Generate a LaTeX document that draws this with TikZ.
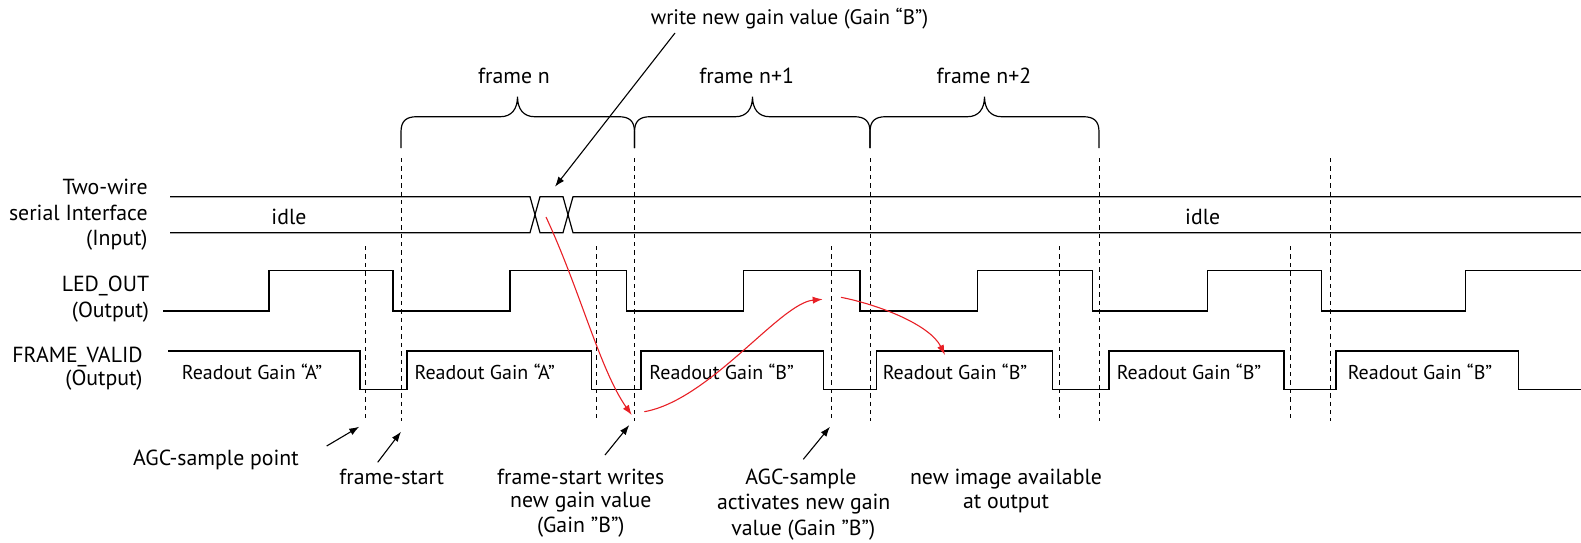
\documentclass[tikz,border=0pt]{standalone}
\usepackage{fontspec}
\setmainfont{PT Sans}
\usetikzlibrary{arrows.meta}
\definecolor{arrred}{RGB}{232,32,38}
\begin{document}
\begin{tikzpicture}[x=0.5pt,y=-0.5pt,
  wave/.style={line width=0.6pt, line join=miter},
  guide/.style={line width=0.5pt, dash pattern=on 2.2pt off 2pt},
  lbl/.style={font=\fontsize{10.9}{13}\selectfont, inner sep=0pt},
  rdl/.style={font=\fontsize{10}{12}\selectfont, inner sep=0pt},
  brc/.style={line width=0.6pt},
  blk/.style={line width=0.55pt, -{Latex[length=5pt,width=3.6pt]}},
  redarr/.style={line width=0.55pt, draw=arrred, -{Latex[length=5pt,width=3.6pt]}, arrred}
]
\useasboundingbox (0,0) rectangle (1581,542);

% ---- signal names
\node[lbl, anchor=east] (n1) at (148,186.7) {Two-wire};
\node[lbl, anchor=east] (n2) at (148,213.3) {serial Interface};
\node[lbl, anchor=east] (n3) at (148,240) {(Input)};
\node[lbl, anchor=east] (n4) at (149.5,286) {LED\_OUT};
\node[lbl, anchor=east] (n5) at (149.5,312.5) {(Output)};
\node[lbl, anchor=east] (n6) at (143,356.7) {FRAME\_VALID};
\node[lbl, anchor=east] (n7) at (143,380.5) {(Output)};

% ---- frame braces
\foreach \a/\m/\b in {401/517.5/634.5, 634.5/752.5/870, 870/984.5/1099}{
  \draw[brc] (\a,148) -- (\a,132) .. controls (\a,121) and (\a+5,116.7) .. (\a+16,116.7)
    -- (\m-17,116.7) .. controls (\m-6,116.7) and (\m,109) .. (\m,96.7)
    .. controls (\m,109) and (\m+6,116.7) .. (\m+17,116.7)
    -- (\b-16,116.7) .. controls (\b-5,116.7) and (\b,121) .. (\b,132) -- (\b,148);
}
\node[lbl] (fn0) at (514,76) {frame n};
\node[lbl] (fn1) at (746.7,76) {frame n+1};
\node[lbl] (fn2) at (984,76) {frame n+2};
\node[lbl, font=\fontsize{10.5}{13}\selectfont] (wr) at (789.5,19) {write new gain value (Gain “B”)};

% ---- guide lines
\foreach \x in {401,634.5,870,1099,1330}{\draw[guide] (\x,158) -- (\x,421);}
\foreach \x in {365.7,596.7,831,1059.3,1290}{\draw[guide] (\x,246) -- (\x,421);}

% ---- two-wire bus
\draw[wave] (170,196.7) -- (530,196.7) -- (540,232.7) -- (563,232.7) -- (573,196.7) -- (1581,196.7);
\draw[wave] (170,232.7) -- (530,232.7) -- (540,196.7) -- (563,196.7) -- (573,232.7) -- (1581,232.7);
\node[lbl] (id1) at (289,217) {idle};
\node[lbl] (id2) at (1202.7,217) {idle};

% ---- LED_OUT
\draw[wave] (163,311) -- (269,311) -- (269,270.5) -- (393,270.5) -- (393,311) -- (510,311)
  -- (510,270.5) -- (626.7,270.5) -- (626.7,311) -- (743.3,311) -- (743.3,270.5) -- (860,270.5)
  -- (860,311) -- (977.7,311) -- (977.7,270.5) -- (1092.3,270.5) -- (1092.3,311) -- (1207.7,311)
  -- (1207.7,270.5) -- (1321.7,270.5) -- (1321.7,311) -- (1465.7,311) -- (1465.7,270.5) -- (1581,270.5);

% ---- FRAME_VALID
\draw[wave] (168,351) -- (360,351) -- (360,389.5) -- (407,389.5) -- (407,351) -- (591.7,351)
  -- (591.7,389.5) -- (641,389.5) -- (641,351) -- (823.3,351) -- (823.3,389.5) -- (876.7,389.5)
  -- (876.7,351) -- (1052.3,351) -- (1052.3,389.5) -- (1109,389.5) -- (1109,351) -- (1284,351)
  -- (1284,389.5) -- (1336,389.5) -- (1336,351) -- (1518.3,351) -- (1518.3,389.5) -- (1581,389.5);
\node[rdl] (r1) at (252,372) {Readout Gain “A”};
\node[rdl] (r2) at (484.7,372) {Readout Gain “A”};
\node[rdl] (r3) at (721.7,372) {Readout Gain “B”};
\node[rdl] (r4) at (955,372) {Readout Gain “B”};
\node[rdl] (r5) at (1189,372) {Readout Gain “B”};
\node[rdl] (r6) at (1420,372) {Readout Gain “B”};

% ---- bottom annotations
\node[lbl] (b1) at (216,460) {AGC-sample point};
\node[lbl] (b2) at (391.8,477.3) {frame-start};
\node[lbl] (b3a) at (580.8,477) {frame-start writes};
\node[lbl] (b3b) at (580.8,502) {new gain value};
\node[lbl] (b3c) at (580.8,527) {(Gain ”B”)};
\node[lbl] (b4a) at (801,479) {AGC-sample};
\node[lbl] (b4b) at (803.7,504) {activates new gain};
\node[lbl] (b4c) at (803.3,530) {value (Gain ”B”)};
\node[lbl] (b5a) at (1006,479) {new image available};
\node[lbl] (b5b) at (1006,504) {at output};

% ---- arrow end points
\coordinate (w0) at (675,33);      \coordinate (w1) at (555,186.7);
\coordinate (p0) at (326.7,446);   \coordinate (p1) at (359.3,426.7);
\coordinate (s0) at (377.7,462.3); \coordinate (s1) at (401,431.7);
\coordinate (t0) at (605,455);     \coordinate (t1) at (629.3,425);
\coordinate (g0) at (803.3,459.3); \coordinate (g1) at (830,426.7);
\coordinate (ra0) at (546,217);    \coordinate (ra1) at (631.7,415);
\coordinate (rb0) at (644.3,411.7);\coordinate (rb1) at (822.7,299.3);
\coordinate (rc0) at (841,297.3);  \coordinate (rc1) at (945,355);

\draw[blk] (w0) -- (w1);
\draw[blk] (p0) -- (p1);
\draw[blk] (s0) -- (s1);
\draw[blk] (t0) -- (t1);
\draw[blk] (g0) -- (g1);

\draw[redarr] (ra0) .. controls (580,290) and (600,370) .. (ra1);
\draw[redarr] (rb0) .. controls (710,400) and (780,303) .. (rb1);
\draw[redarr] (rc0) .. controls (880,305) and (930,325) .. (rc1);
\end{tikzpicture}
\end{document}
